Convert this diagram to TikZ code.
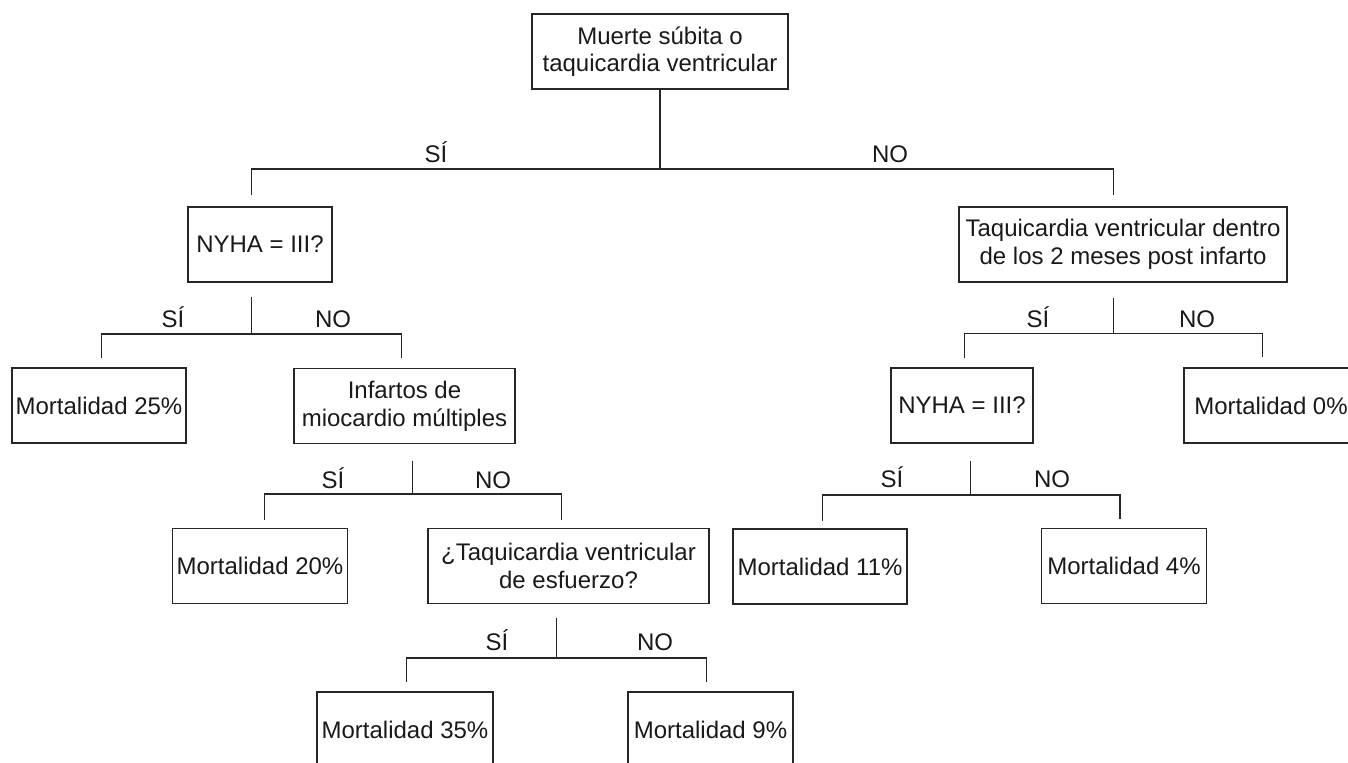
\documentclass[tikz,border=0pt]{standalone}
\usepackage{fontspec}
\setmainfont{Liberation Sans}

\begin{document}
\begin{tikzpicture}[x=0.5pt,y=-0.5pt]
\tikzset{box/.style = {shape=rectangle,draw=black!85,line width=0.65pt,minimum width=0.5pt*#1,minimum height=37.5pt,inner sep=0pt,align=center,text=black!90,font=\fontsize{12}{13.8}\selectfont}}
\tikzset{edge/.style = {draw=black!85,line width=0.65pt}}
\tikzset{answer/.style = {anchor=base,inner sep=0pt,text=black!90,font=\fontsize{12}{13.8}\selectfont}}
\useasboundingbox (0,0) rectangle (1348,763);
\clip (0,0) rectangle (1348,763);

\node[box=256] (root) at (660,51.5) {Muerte súbita o\\taquicardia ventricular};
\node[box=144] (nyhaA) at (260,244.5) {NYHA = III?};
\node[box=328] (tvpost) at (1123,244.5) {Taquicardia ventricular dentro\\de los 2 meses post infarto};
\node[box=174] (m25) at (99,405.5) {Mortalidad 25\%};
\node[box=221] (infartos) at (404.5,406) {Infartos de\\miocardio múltiples};
\node[box=142] (nyhaB) at (962,405.5) {NYHA = III?};
\node[box=174] (m0) at (1271,405.5) {Mortalidad 0\%};
\node[box=175] (m20) at (260,566) {Mortalidad 20\%};
\node[box=281] (tvesf) at (568.5,566) {¿Taquicardia ventricular\\de esfuerzo?};
\node[box=174] (m11) at (820,566.5) {Mortalidad 11\%};
\node[box=165] (m4) at (1124,566) {Mortalidad 4\%};
\node[box=176] (m35) at (405,729.5) {Mortalidad 35\%};
\node[box=165] (m9) at (710.5,729.5) {Mortalidad 9\%};

% branch points
\coordinate (j0) at (660,169);
\coordinate (l0) at (251.7,195);
\coordinate (r0) at (1113.3,195);
\coordinate (s1) at (251.7,297);
\coordinate (j1) at (251.7,334);
\coordinate (l1) at (101.7,358);
\coordinate (r1) at (401.7,358);
\coordinate (s2) at (1113.3,298);
\coordinate (j2) at (1113.3,333.5);
\coordinate (l2) at (964.3,358);
\coordinate (r2) at (1262.3,357);
\coordinate (s3) at (412.7,461);
\coordinate (j3) at (412.7,494);
\coordinate (l3) at (264.3,520);
\coordinate (r3) at (561.7,520);
\coordinate (s4) at (970.7,461);
\coordinate (j4) at (970.7,495);
\coordinate (l4) at (822.3,520.7);
\coordinate (r4) at (1120,519);
\coordinate (s5) at (556.7,618);
\coordinate (j5) at (556.7,658);
\coordinate (l5) at (406.7,682);
\coordinate (r5) at (706.7,682);

\draw[edge] (root.south) -- (j0);
\draw[edge] (l0) |- (j0) -| (r0);
\draw[edge] (s1) -- (j1);
\draw[edge] (l1) |- (j1) -| (r1);
\draw[edge] (s2) -- (j2);
\draw[edge] (l2) |- (j2) -| (r2);
\draw[edge] (s3) -- (j3);
\draw[edge] (l3) |- (j3) -| (r3);
\draw[edge] (s4) -- (j4);
\draw[edge] (l4) |- (j4) -| (r4);
\draw[edge] (s5) -- (j5);
\draw[edge] (l5) |- (j5) -| (r5);

% answers
\node[answer] (si0) at (436,163) {SÍ};
\node[answer] (no0) at (890,163) {NO};
\node[answer] (si1) at (173,328) {SÍ};
\node[answer] (no1) at (333,328) {NO};
\node[answer] (si2) at (1038,328) {SÍ};
\node[answer] (no2) at (1197,328) {NO};
\node[answer] (si3) at (333,489) {SÍ};
\node[answer] (no3) at (493,489) {NO};
\node[answer] (si4) at (892,488) {SÍ};
\node[answer] (no4) at (1052,488) {NO};
\node[answer] (si5) at (497,650) {SÍ};
\node[answer] (no5) at (655,650) {NO};
\end{tikzpicture}
\end{document}
